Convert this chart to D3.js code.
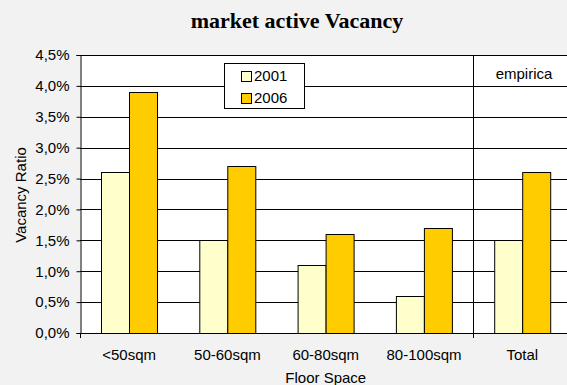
<!DOCTYPE html>
<html>
<head>
<meta charset="utf-8">
<script src="https://cdn.jsdelivr.net/npm/d3@7"></script>
<style>
  body { margin: 0; background: #f2f2f2; }
  svg { display: block; }
</style>
</head>
<body>
<div id="chart"></div>
<script>
// data
const categories = ["<50sqm", "50-60sqm", "60-80sqm", "80-100sqm", "Total"];
const years = ["2001", "2006"];
const values2001 = [2.6, 1.5, 1.1, 0.6, 1.5];
const values2006 = [3.9, 2.7, 1.6, 1.7, 2.6];
const yTicks = [0, 0.5, 1, 1.5, 2, 2.5, 3, 3.5, 4, 4.5];
const colors = {"2001": "#ffffcc", "2006": "#ffcc00"};

const width = 567, height = 385;
const plot = {left: 80, right: 571.5, top: 55, bottom: 333};

const svg = d3.select("#chart")
    .append("svg")
    .attr("width", width)
    .attr("height", height)
    .style("font-family", "'Liberation Sans', Arial, sans-serif");

svg.append("rect")
    .attr("width", width).attr("height", height)
    .attr("fill", "#f2f2f2");

// scales
const x = d3.scaleBand()
    .domain(categories)
    .range([plot.left, plot.right]);

const xSub = d3.scaleBand()
    .domain(years)
    .range([0, x.bandwidth()])
    .paddingOuter(0.755);

const y = d3.scaleLinear()
    .domain([0, 4.5])
    .range([plot.bottom, plot.top]);

// plot area
svg.append("rect")
    .attr("x", plot.left)
    .attr("y", plot.top)
    .attr("width", plot.right - plot.left)
    .attr("height", plot.bottom - plot.top)
    .attr("fill", "white");

// gridlines
svg.append("g")
    .selectAll("line")
    .data(yTicks.filter(d => d > 0))
    .join("line")
    .attr("x1", plot.left)
    .attr("x2", plot.right)
    .attr("y1", d => Math.round(y(d)) + 0.5)
    .attr("y2", d => Math.round(y(d)) + 0.5)
    .attr("stroke", "#000")
    .attr("stroke-width", 1);

// separator before Total
svg.append("line")
    .attr("x1", Math.round(x("Total")) + 0.5)
    .attr("x2", Math.round(x("Total")) + 0.5)
    .attr("y1", plot.top)
    .attr("y2", plot.bottom + 5)
    .attr("stroke", "#000");

// bars
const rows = categories.map((c, i) => ({category: c, "2001": values2001[i], "2006": values2006[i]}));

svg.append("g")
    .selectAll("g")
    .data(rows)
    .join("g")
    .attr("transform", d => `translate(${x(d.category)},0)`)
    .selectAll("rect")
    .data(d => years.map(yr => ({year: yr, value: d[yr]})))
    .join("rect")
    .attr("x", d => Math.round(xSub(d.year)) + 0.5)
    .attr("y", d => Math.round(y(d.value)) + 0.5)
    .attr("width", xSub.bandwidth())
    .attr("height", d => Math.round(y(0)) - Math.round(y(d.value)))
    .attr("fill", d => colors[d.year])
    .attr("stroke", "#000")
    .attr("stroke-width", 1);

// y axis
const yAxis = svg.append("g")
    .attr("transform", `translate(${plot.left + 0.5},0)`)
    .call(d3.axisLeft(y)
        .tickValues(yTicks)
        .tickSize(4)
        .tickPadding(7)
        .tickFormat(d => d3.format(".1f")(d).replace(".", ",") + "%"));
yAxis.select(".domain").attr("stroke", "#000");
yAxis.selectAll("line").attr("stroke", "#000");
yAxis.selectAll("text")
    .style("font-size", "15px")
    .style("font-family", "'Liberation Sans', Arial, sans-serif")
    .attr("fill", "#000");

// x axis baseline
svg.append("line")
    .attr("x1", plot.left)
    .attr("x2", plot.right)
    .attr("y1", Math.round(y(0)) + 0.5)
    .attr("y2", Math.round(y(0)) + 0.5)
    .attr("stroke", "#000");
svg.append("line")
    .attr("x1", plot.left + 0.5)
    .attr("x2", plot.left + 0.5)
    .attr("y1", plot.bottom)
    .attr("y2", plot.bottom + 5)
    .attr("stroke", "#000");

// category labels
svg.append("g")
    .selectAll("text")
    .data(categories)
    .join("text")
    .attr("x", d => x(d) + x.bandwidth() / 2)
    .attr("y", 360)
    .attr("text-anchor", "middle")
    .style("font-size", "15px")
    .text(d => d);

// axis titles
svg.append("text")
    .attr("x", (plot.left + plot.right) / 2)
    .attr("y", 383)
    .attr("text-anchor", "middle")
    .style("font-size", "15px")
    .text("Floor Space");

svg.append("text")
    .attr("transform", "translate(26,195) rotate(-90)")
    .attr("text-anchor", "middle")
    .style("font-size", "15px")
    .text("Vacancy Ratio");

// title
svg.append("text")
    .attr("x", 297)
    .attr("y", 28)
    .attr("text-anchor", "middle")
    .style("font-family", "'Liberation Serif', 'Times New Roman', serif")
    .style("font-weight", "bold")
    .style("font-size", "22px")
    .text("market active Vacancy");

// source label
svg.append("text")
    .attr("x", 524)
    .attr("y", 79)
    .attr("text-anchor", "middle")
    .style("font-size", "15px")
    .text("empirica");

// legend
const legend = svg.append("g");
legend.append("rect")
    .attr("x", 224.5).attr("y", 63.5)
    .attr("width", 80).attr("height", 45)
    .attr("fill", "white")
    .attr("stroke", "#000");
legend.selectAll("g")
    .data(years)
    .join("g")
    .attr("transform", (d, i) => `translate(0,${i * 22})`)
    .call(g => g.append("rect")
        .attr("x", 241.5).attr("y", 71.5)
        .attr("width", 10).attr("height", 10)
        .attr("fill", d => colors[d])
        .attr("stroke", "#000"))
    .call(g => g.append("text")
        .attr("x", 254)
        .attr("y", 81)
        .style("font-size", "15px")
        .text(d => d));
</script>
</body>
</html>
